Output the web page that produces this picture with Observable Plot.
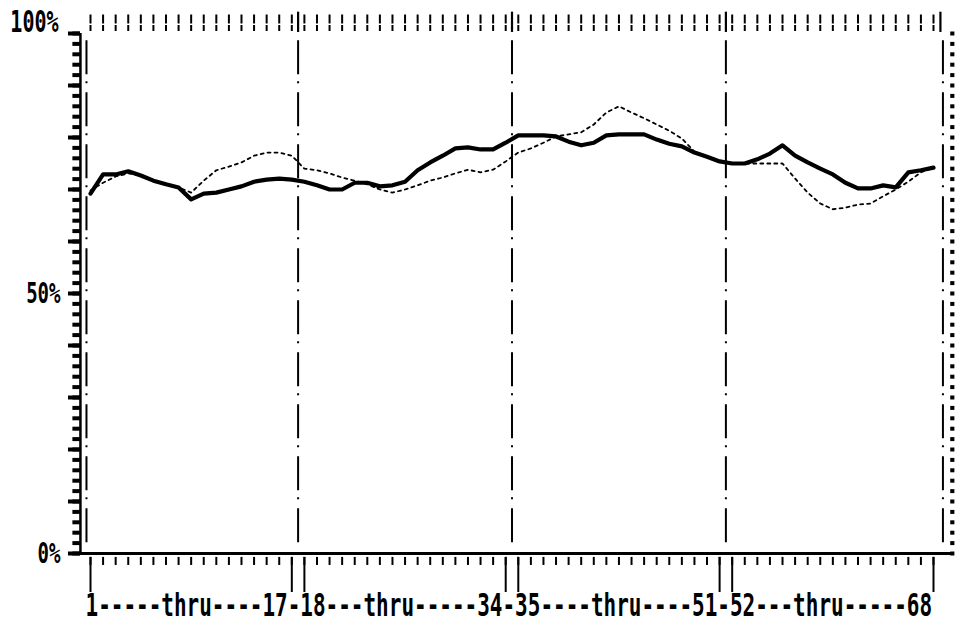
<!DOCTYPE html>
<html>
<head>
<meta charset="utf-8">
<script src="https://cdn.jsdelivr.net/npm/d3@7"></script>
<script src="https://cdn.jsdelivr.net/npm/@observablehq/plot@0.6"></script>
<style>
  html, body { margin: 0; padding: 0; background: #fff; }
</style>
</head>
<body>
<div id="chart"></div>
<script>
// Sequence positions 1..68 along the horizontal axis
const positions = d3.range(1, 69);

// Heavy trace (percent)
const solidSeries = [
  69.2, 72.9, 72.9, 73.5, 72.7, 71.7, 71.0, 70.4, 68.1, 69.2,
  69.4, 70.0, 70.6, 71.5, 71.9, 72.1, 71.9, 71.5, 70.8, 70.0,
  70.0, 71.3, 71.3, 70.6, 70.8, 71.5, 73.7, 75.2, 76.5, 77.9,
  78.1, 77.7, 77.7, 79.0, 80.4, 80.4, 80.4, 80.2, 79.2, 78.5,
  79.0, 80.4, 80.6, 80.6, 80.6, 79.6, 78.8, 78.3, 77.1, 76.3,
  75.4, 75.0, 75.0, 75.8, 76.9, 78.5, 76.5, 75.2, 74.0, 72.9,
  71.3, 70.2, 70.2, 70.8, 70.4, 73.3, 73.7, 74.2
];

// Dotted trace (percent)
const dottedSeries = [
  69.8, 71.3, 72.5, 73.1, 72.7, 71.7, 71.0, 70.4, 69.4, 71.7,
  73.7, 74.4, 75.2, 76.5, 77.1, 77.1, 76.5, 74.0, 73.7, 73.1,
  72.3, 71.7, 71.0, 70.0, 69.4, 70.0, 70.8, 71.7, 72.3, 73.1,
  73.8, 73.3, 73.8, 75.4, 77.1, 77.9, 79.0, 80.2, 80.6, 81.0,
  82.5, 84.8, 86.0, 84.8, 83.7, 82.5, 81.3, 79.8, 77.3, 76.3,
  75.4, 75.0, 75.0, 75.0, 75.0, 75.0, 72.1, 69.4, 67.3, 66.2,
  66.5, 67.1, 67.3, 68.7, 70.0, 71.5, 73.3, 74.2
];

// Group boundaries between the four runs
const groupBreaks = [17.5, 34.5, 51.5];
// Positions that carry a long tick on the bottom axis
const rangeEnds = ["1", "17", "18", "34", "35", "51", "52", "68"];
// Bottom axis caption, one character per column
const rangeText = "1-----thru----17-18---thru-----34-35----thru----51-52---thru-----68";
// Left axis labels
const yLabels = [0, 50, 100];

const rows = positions.map((p, i) => ({p, solid: solidSeries[i], dotted: dottedSeries[i]}));
const longTicks = rangeEnds.map(Number);
const minorY = d3.range(0, 101, 2);
const majorY = d3.range(0, 101, 10);

// Frame geometry in data units
const axisX = 0.2;         // left axis line
const borderL = 0.68;      // left dash-dot border
const borderR = 68.75;     // right dash-dot border
const baseLo = -0.75, baseHi = 69.6;

const ink = "#000";
const dashDot = "34,7,2,9";
const labelFont = {fontFamily: "DejaVu Sans Mono", fontWeight: "bold", fill: ink};

const plot = Plot.plot({
  width: 956,
  height: 627,
  marginLeft: 90,
  marginRight: 23,
  marginTop: 33,
  marginBottom: 74,
  style: {background: "#fff", overflow: "visible"},
  x: {domain: [1, 68], axis: null},
  y: {domain: [0, 100], axis: null},
  marks: [
    // dash-dot borders and group separators
    Plot.ruleX([borderL, ...groupBreaks, borderR], {
      y1: 98.6, y2: 1, stroke: ink, strokeWidth: 2, strokeDasharray: dashDot
    }),
    // left axis line with its ticks
    Plot.ruleX([axisX], {y1: 0, y2: 100, stroke: ink, strokeWidth: 2.5}),
    Plot.ruleY(minorY, {x1: axisX - 0.6, x2: axisX, stroke: ink, strokeWidth: 4}),
    Plot.ruleY(majorY, {x1: axisX - 0.95, x2: axisX, stroke: ink, strokeWidth: 4}),
    // right dotted scale
    Plot.ruleY(minorY, {x1: borderR + 0.62, x2: borderR + 0.95, stroke: ink, strokeWidth: 4}),
    // baseline
    Plot.ruleY([0], {x1: baseLo, x2: baseHi, stroke: ink, strokeWidth: 3}),
    // bottom ticks
    Plot.ruleX(positions, {y1: -0.75, y2: -2.3, stroke: ink, strokeWidth: 2}),
    Plot.ruleX(longTicks, {y1: -0.75, y2: -7.5, stroke: ink, strokeWidth: 2}),
    // top ticks
    Plot.ruleX(positions, {y1: 100.4, y2: 103.7, stroke: ink, strokeWidth: 2, strokeDasharray: "6,1.5,9"}),
    Plot.ruleX([...groupBreaks, borderR - 0.2], {y1: 100.2, y2: 104.1, stroke: ink, strokeWidth: 2.2}),
    // traces
    Plot.line(rows, {x: "p", y: "dotted", stroke: ink, strokeWidth: 1.8, strokeDasharray: "3,4"}),
    Plot.line(rows, {x: "p", y: "solid", stroke: ink, strokeWidth: 4.2}),
    // left labels: the top one sits above its tick, the others on it
    Plot.text(yLabels.filter(d => d < 100), {
      frameAnchor: "left", dx: -30, y: d => d, text: d => d + "%",
      textAnchor: "end", lineAnchor: "middle", fontSize: 19, ...labelFont
    }),
    Plot.text(yLabels.filter(d => d === 100), {
      frameAnchor: "left", dx: -32, dy: -11, y: d => d, text: d => d + "%",
      textAnchor: "end", lineAnchor: "middle", fontSize: 20, ...labelFont
    }),
    // bottom caption
    Plot.text([rangeText], {
      x: 1, y: -10, dx: -5, text: d => d,
      textAnchor: "start", lineAnchor: "middle", fontSize: 21, ...labelFont
    })
  ]
});

// Tall, narrow printer-style lettering: stretch labels vertically about their anchor
d3.select(plot).selectAll("text").each(function () {
  const t = d3.select(this);
  const s = t.text();
  if (s !== rangeText && !s.endsWith("%")) return;
  const k = s === rangeText ? 1.55 : 1.5;
  const base = t.attr("transform") || "";
  t.attr("transform", `${base} scale(1,${k})`.trim());
});

document.getElementById("chart").appendChild(plot);
</script>
</body>
</html>
